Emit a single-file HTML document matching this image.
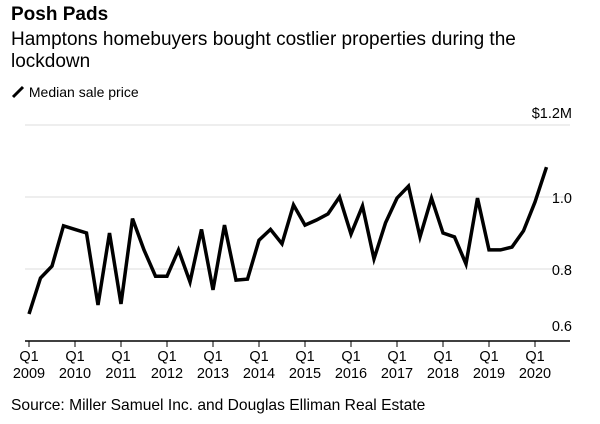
<!DOCTYPE html>
<html><head><meta charset="utf-8"><style>
body{margin:0;background:#fff;width:600px;height:424px;overflow:hidden;font-family:"Liberation Sans",sans-serif;color:#000}
</style></head><body>
<div style="position:absolute;left:11px;top:4px;font-size:19px;font-weight:bold;">Posh Pads</div>
<div style="position:absolute;left:11px;top:29px;font-size:19px;line-height:22px;width:525px;">Hamptons homebuyers bought costlier properties during the lockdown</div>
<div style="position:absolute;left:11px;top:84px;font-size:14px;">
<svg width="14" height="14" style="vertical-align:-2px"><line x1="2" y1="12" x2="12" y2="2" stroke="#000" stroke-width="3"/></svg> Median sale price</div>
<svg id="c" width="600" height="424" style="position:absolute;left:0;top:0"></svg>
<div style="position:absolute;left:11px;top:397px;font-size:15.6px;">Source: Miller Samuel Inc. and Douglas Elliman Real Estate</div>
<script>
const years=["2009","2010","2011","2012","2013","2014","2015","2016","2017","2018","2019","2020"];
const yTicks=[0.6,0.8,1.0,1.2];
const yTickLabels=["0.6","0.8","1.0","$1.2M"];
const prices=[0.675,0.775,0.808,0.92,0.91,0.90,0.70,0.90,0.703,0.94,0.853,0.78,0.78,0.853,0.764,0.91,0.742,0.922,0.769,0.772,0.88,0.91,0.87,0.978,0.922,0.936,0.953,1.0,0.897,0.975,0.828,0.928,0.997,1.03,0.889,0.997,0.9,0.889,0.814,0.997,0.853,0.853,0.861,0.906,0.986,1.083];
const NS="http://www.w3.org/2000/svg",svg=document.getElementById('c');
const x=i=>29+i*46/4, y=v=>341-(v-0.6)*360;
function mk(t,a){const e=document.createElementNS(NS,t);for(const k in a)e.setAttribute(k,a[k]);svg.appendChild(e);return e;}
yTicks.forEach((v,i)=>{
 if(i>0){const g=mk('line',{x1:25,x2:570,y1:y(v),y2:y(v),stroke:'#ddd','stroke-width':1});
 
 }
 const t=mk('text',{x:572,'text-anchor':'end','font-size':14.5,'font-family':'Liberation Sans'});
 t.setAttribute('y', i==0? y(v)-10 : (i==3? y(v)-7 : y(v)+6));
 t.textContent=yTickLabels[i];
 
 
});
const ax=mk('line',{x1:25,x2:570,y1:341,y2:341,stroke:'#000','stroke-width':1.5});


years.forEach((yr,i)=>{
 const xx=x(i*4);
 const tk=mk('line',{x1:xx,x2:xx,y1:341,y2:347,stroke:'#000','stroke-width':1});
 
 
 const t=mk('text',{x:xx,y:361,'text-anchor':'middle','font-size':14.5,'font-family':'Liberation Sans'});
 
 
 const a=document.createElementNS(NS,'tspan');a.setAttribute('x',xx);a.textContent='Q1';t.appendChild(a);
 const b=document.createElementNS(NS,'tspan');b.setAttribute('x',xx);b.setAttribute('dy',17);b.textContent=yr;t.appendChild(b);
});
const p=mk('polyline',{points:prices.map((v,i)=>x(i)+','+y(v)).join(' '),fill:'none',stroke:'#000','stroke-width':3.5,'stroke-linejoin':'miter'});


</script>
</body></html>
